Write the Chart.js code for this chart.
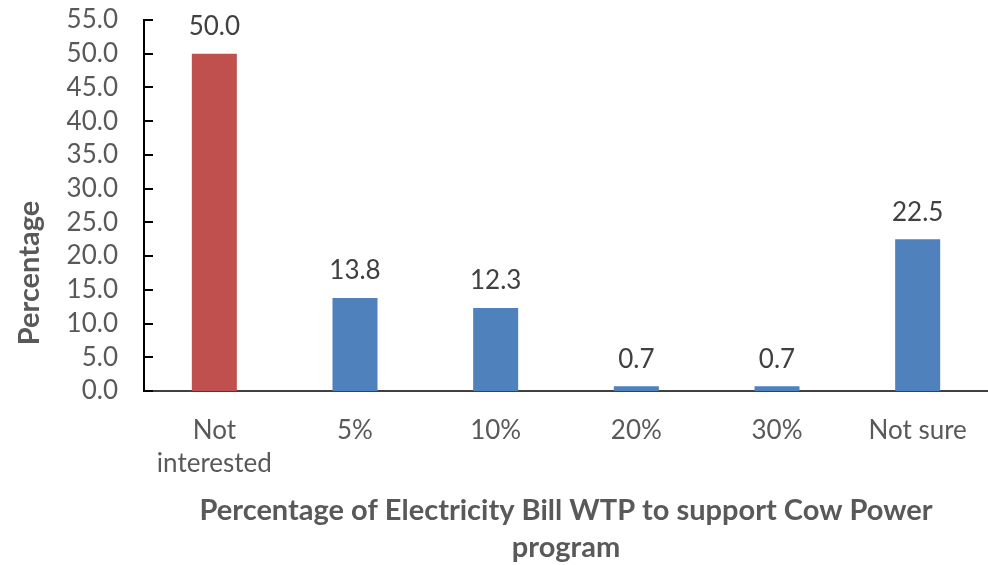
<!DOCTYPE html>
<html lang="en">

<head>
    <meta charset="UTF-8">
    <title>WTP Cow Power</title>
    <script src="https://cdn.jsdelivr.net/npm/chart.js"></script>
    <style>
        body {
            margin: 0;
            background: #ffffff;
        }

        .chart-box {
            width: 988px;
            height: 565px;
            position: relative;
        }
    </style>
</head>

<body>

    <div class="chart-box">
        <canvas id="wtpChart"></canvas>
    </div>

    <script>
        const categories = [['Not', 'interested'], '5%', '10%', '20%', '30%', 'Not sure'];
        const percentages = [50.0, 13.8, 12.3, 0.7, 0.7, 22.5];
        const barColors = ['#C0504D', '#4F81BD', '#4F81BD', '#4F81BD', '#4F81BD', '#4F81BD'];
        const yTicks = [0, 5, 10, 15, 20, 25, 30, 35, 40, 45, 50, 55];
        const yTitle = 'Percentage';
        const xTitle = ['Percentage of Electricity Bill WTP to support Cow Power', 'program'];

        const fontFamily = "Lato, 'Open Sans', sans-serif";

        // подписи над столбиками, внутренние засечки оси Y и названия осей
        const extrasPlugin = {
            id: 'extras',
            afterDatasetsDraw(chart) {
                const ctx = chart.ctx;
                const meta = chart.getDatasetMeta(0);
                ctx.save();
                ctx.font = '26px ' + fontFamily;
                ctx.fillStyle = '#404040';
                ctx.textAlign = 'center';
                ctx.textBaseline = 'middle';
                meta.data.forEach(function (bar, i) {
                    ctx.fillText(percentages[i].toFixed(1), bar.x, bar.y - 27);
                });
                ctx.restore();
            },
            afterDraw(chart) {
                const ctx = chart.ctx;
                const y = chart.scales.y;
                const area = chart.chartArea;
                ctx.save();
                ctx.strokeStyle = '#000000';
                ctx.lineWidth = 2;
                yTicks.forEach(function (v) {
                    const py = Math.round(y.getPixelForValue(v));
                    ctx.beginPath();
                    ctx.moveTo(area.left, py);
                    ctx.lineTo(area.left + 9, py);
                    ctx.stroke();
                });

                ctx.fillStyle = '#595959';
                ctx.font = 'bold 29px ' + fontFamily;
                ctx.textAlign = 'center';
                ctx.textBaseline = 'middle';
                const cx = (area.left + area.right) / 2;
                ctx.fillText(xTitle[0], cx, 511);
                ctx.fillText(xTitle[1], cx, 548);

                ctx.translate(30, 273);
                ctx.rotate(-Math.PI / 2);
                ctx.fillText(yTitle, 0, 0);
                ctx.restore();
            }
        };

        new Chart(document.getElementById('wtpChart'), {
            type: 'bar',
            data: {
                labels: categories,
                datasets: [{
                    data: percentages,
                    backgroundColor: barColors,
                    barPercentage: 0.32,
                    categoryPercentage: 1.0
                }]
            },
            options: {
                responsive: true,
                maintainAspectRatio: false,
                animation: false,
                layout: { padding: { top: 20, left: 0, right: 0, bottom: 0 } },
                plugins: {
                    legend: { display: false },
                    tooltip: { enabled: false }
                },
                scales: {
                    x: {
                        grid: { display: false },
                        border: { display: true, color: '#404040', width: 2 },
                        ticks: {
                            color: '#595959',
                            font: { family: fontFamily, size: 26, lineHeight: 1.27 },
                            padding: 15,
                            maxRotation: 0
                        },
                        afterFit: function (scale) {
                            scale.height = 174;
                            scale.paddingLeft = 0;
                            scale.paddingRight = 0;
                        }
                    },
                    y: {
                        min: 0,
                        max: 55,
                        grid: { display: false },
                        border: { display: true, color: '#000000', width: 2 },
                        ticks: {
                            stepSize: 5,
                            autoSkip: false,
                            color: '#595959',
                            font: { family: fontFamily, size: 26 },
                            padding: 18,
                            callback: function (value) { return value.toFixed(1); }
                        },
                        afterFit: function (scale) {
                            scale.width = 144;
                            scale.paddingTop = 0;
                            scale.paddingBottom = 0;
                        }
                    }
                }
            },
            plugins: [extrasPlugin]
        });
    </script>

</body>

</html>
